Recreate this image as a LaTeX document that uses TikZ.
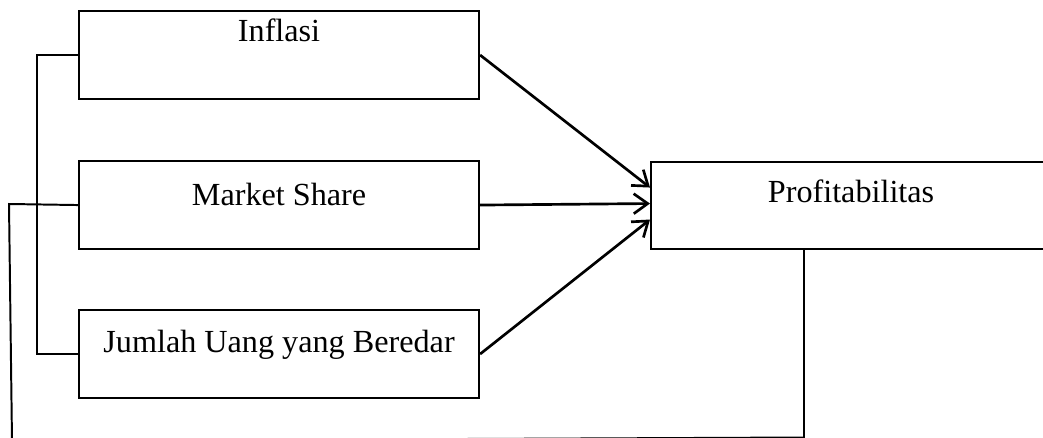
\documentclass[tikz,border=0pt]{standalone}
\usepackage{fontspec}
\setmainfont{Liberation Serif}
\usetikzlibrary{arrows.meta}

\begin{document}
\begin{tikzpicture}[
		font=\fontsize{22.9}{27}\selectfont,
		varbox/.style={draw, line width=1.5pt, inner sep=0pt,
			minimum width=10cm, anchor=north west},
		link/.style={line width=1.4pt},
		influence/.style={line width=1.9pt,
			-{Straight Barb[length=3.5mm,width=5mm,line width=1.9pt]}}
		]
		\useasboundingbox (0,0) rectangle (26.075,10.95);
		% independent variables
		\node[varbox, text height=0.75cm, text depth=1.45cm]
		(inflasi) at (1.95,10.7) {Inflasi};
		\node[varbox, text height=1.1cm, text depth=1.1cm]
		(market) at (1.95,6.95) {Market Share};
		\node[varbox, text height=1.05cm, text depth=1.15cm]
		(jumlah) at (1.95,3.225) {Jumlah Uang yang Beredar};
		% dependent variable
		\node[varbox, text height=1cm, text depth=1.175cm]
		(profit) at (16.25,6.925) {Profitabilitas};

		% arrows to profitabilitas
		\draw[influence] (inflasi.east) -- ([yshift=0.45cm]profit.west);
		\draw[influence] (market.east) -- ([yshift=0.05cm]profit.west);
		\draw[influence] (jumlah.east) -- ([yshift=-0.35cm]profit.west);

		% left bracket
		\coordinate (bracket) at (0.925,8.1);
		\draw[link] (inflasi.west) -| (bracket) |- (jumlah.west);

		% loop back from profitabilitas
		\coordinate (loopstart) at (0.225,5.85);
		\coordinate (loopcorner) at (0.3,-0.075);
		\coordinate (loopend) at (20.1,0.0125);
		\draw[link] (market.west) -- (loopstart) -- (loopcorner) -- (loopend)
		-- (loopend |- profit.south);
\end{tikzpicture}
\end{document}
